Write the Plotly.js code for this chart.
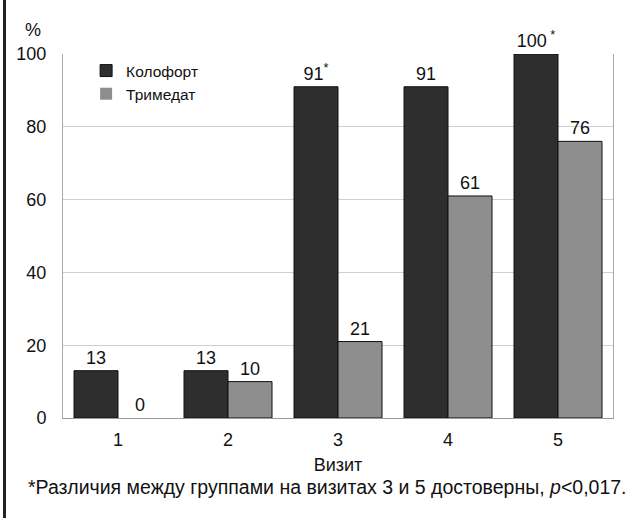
<!DOCTYPE html>
<html><head><meta charset="utf-8">
<script src="https://cdn.plot.ly/plotly-3.0.1.min.js"></script>
<style>body{margin:0;background:#fff}#wrap{position:relative;width:628px;height:518px}
#bar{position:absolute;left:3px;top:0;width:3px;height:518px;background:#222}</style>
</head><body><div id="wrap"><div id="plot" style="width:628px;height:518px"></div><div id="bar"></div></div>
<script>
const visits = ['1','2','3','4','5'];
const kolofort = [13, 13, 91, 91, 100];
const trimedat = [0, 10, 21, 61, 76];
const kolofortLabels = ['13','13','91<sup>*</sup>','91','100<sup> *</sup>'];
const trimedatLabels = ['0','10','21','61','76'];
const font = {family:'Liberation Sans, Arial, sans-serif', size:18, color:'#111'};
const data = [
 {type:'bar', name:'Колофорт', x:visits, y:kolofort, text:kolofortLabels, textposition:'outside', texttemplate:'%{text}',
  marker:{color:'#2e2e2e', line:{color:'#111', width:1}}, textfont:font, cliponaxis:false},
 {type:'bar', name:'Тримедат', x:visits, y:trimedat, text:trimedatLabels, textposition:'outside', texttemplate:'%{text}',
  marker:{color:'#8e8e8e', line:{color:'#111', width:trimedat.map(v => v > 0 ? 1 : 0)}}, textfont:font, cliponaxis:false}
];
const layout = {
 width:628, height:518, margin:{l:63, r:15, t:54, b:100},
 paper_bgcolor:'#fff', plot_bgcolor:'#fff', font:font,
 bargap:0.2, bargroupgap:0,
 showlegend:true,
 legend:{x:0.042, y:1.0, xanchor:'left', yanchor:'top', bgcolor:'rgba(0,0,0,0)', font:{family:font.family, size:15.5, color:'#111'}, tracegroupgap:0, itemwidth:30},
 xaxis:{type:'category', showgrid:false, showline:true, linecolor:'#999', mirror:false, ticks:'', tickfont:font, ticklabelstandoff:5,
   title:{text:'Визит', font:font, standoff:9}},
 yaxis:{range:[0,100], dtick:20, showgrid:true, gridcolor:'#cfcfcf', zeroline:false, showline:true, linecolor:'#aaa', mirror:true,
   ticks:'', tickfont:font, ticklabelstandoff:12},
 annotations:[
  {text:'%', xref:'paper', yref:'paper', x:-0.055, y:1.0, yshift:12, showarrow:false, font:font, xanchor:'center', yanchor:'bottom'},
  {text:'*Различия между группами на визитах 3 и 5 достоверны, <i>p</i>&lt;0,017.', xref:'paper', yref:'paper', x:-0.068, y:-0.19, xanchor:'left', yanchor:'middle', showarrow:false, font:{family:font.family, size:19.5, color:'#111'}}
 ]
};
Plotly.newPlot('plot', data, layout, {displayModeBar:false, staticPlot:true});
</script></body></html>
